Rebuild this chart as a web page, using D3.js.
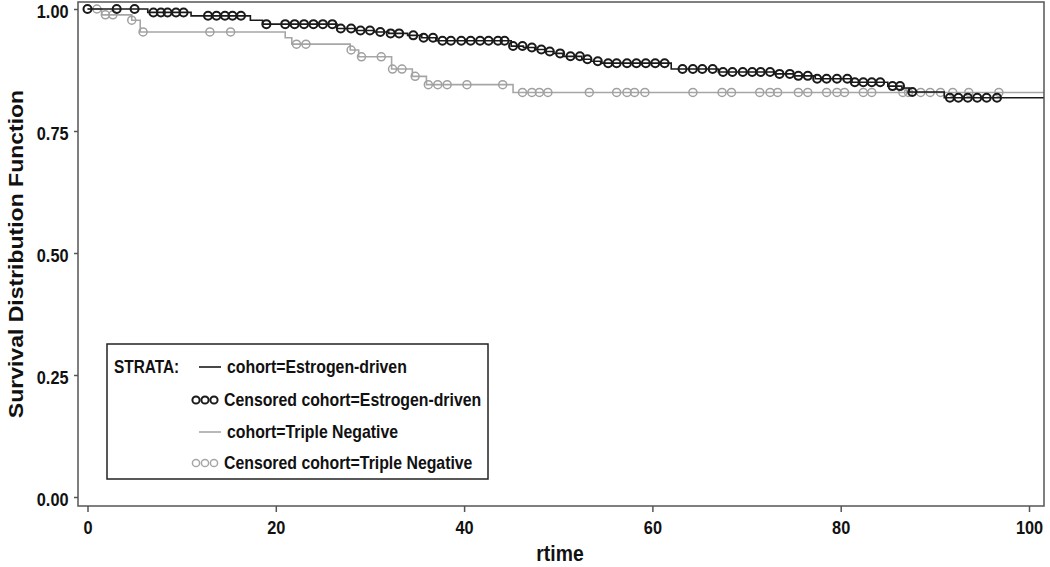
<!DOCTYPE html>
<html>
<head>
<meta charset="utf-8">
<script src="https://cdn.jsdelivr.net/npm/d3@7"></script>
<style>
  body { margin: 0; background: #fff; }
  text { font-family: "Liberation Sans", Arial, sans-serif; font-weight: bold; fill: #111; }
</style>
</head>
<body>
<div id="chart"></div>
<script>
// Data: Kaplan-Meier steps [time, survival after the step] and censored times
const estrogenSteps = [
  [0, 1.0], [6.4, 0.993], [11.0, 0.986], [17.3, 0.977], [18.6, 0.969],
  [26.5, 0.960], [28.5, 0.956], [30.5, 0.953], [32.0, 0.950], [34.0, 0.946],
  [35.5, 0.941], [37.0, 0.935], [45.0, 0.924], [46.3, 0.921], [47.5, 0.917],
  [48.6, 0.913], [49.5, 0.909], [50.5, 0.903], [52.5, 0.897], [53.5, 0.893],
  [54.5, 0.889], [62.0, 0.877], [67.0, 0.871], [73.0, 0.867], [75.0, 0.863],
  [77.3, 0.857], [81.2, 0.850], [85.0, 0.842], [86.5, 0.838], [87.3, 0.830],
  [91.0, 0.818]
];
const estrogenCensored = [
  0, 3.1, 5.0, 7.0, 7.8, 8.5, 9.4, 10.2, 12.8, 13.7, 14.6, 15.4, 16.3,
  19.0, 21.0, 22.0, 23.0, 24.0, 25.0, 26.0, 26.9, 28.0, 29.0, 30.0, 31.1,
  32.2, 33.1, 34.6, 35.7, 36.7, 37.7, 38.6, 39.7, 40.7, 41.7, 42.6, 43.6,
  44.3, 45.2, 46.2, 47.2, 48.2, 49.1, 50.2, 51.3, 52.3, 53.1, 54.2, 55.3,
  56.2, 57.3, 58.3, 59.3, 60.3, 61.3, 63.2, 64.3, 65.3, 66.4, 67.5, 68.5,
  69.6, 70.6, 71.5, 72.5, 73.5, 74.6, 75.5, 76.5, 77.5, 78.5, 79.6, 80.7,
  81.5, 82.4, 83.3, 84.2, 85.5, 86.3, 87.6, 91.6, 92.5, 93.5, 94.5, 95.5, 96.6
];
const tripleSteps = [
  [0, 1.0], [1.5, 0.988], [4.7, 0.977], [5.6, 0.953], [21.0, 0.941],
  [21.7, 0.928], [27.9, 0.916], [28.8, 0.902], [32.3, 0.877], [34.5, 0.862],
  [36.0, 0.845], [45.2, 0.829]
];
const tripleCensored = [
  1.0, 1.9, 2.7, 4.7, 5.9, 13.0, 15.2, 22.2, 23.2, 28.0, 29.1, 31.2, 32.4,
  33.4, 34.8, 36.2, 37.2, 38.2, 40.3, 44.1, 46.2, 47.2, 48.0, 48.9, 53.3,
  56.2, 57.3, 58.1, 59.2, 64.3, 67.4, 68.4, 71.4, 72.5, 73.3, 75.5, 76.5,
  78.5, 79.6, 80.4, 82.4, 83.3, 86.6, 87.2, 88.5, 89.5, 90.6, 91.9, 93.6, 96.8
];
const xTicks = [0, 20, 40, 60, 80, 100];
const yTicks = [0, 0.25, 0.5, 0.75, 1];
const legendLabels = [
  "cohort=Estrogen-driven",
  "Censored cohort=Estrogen-driven",
  "cohort=Triple Negative",
  "Censored cohort=Triple Negative"
];
const endTime = 101.6;

// Dimensions
const dimensions = { width: 1050, height: 567 };
const frame = { left: 78, right: 1044, top: 2, bottom: 506 };
const squeeze = 0.88; // the source text is a little condensed

const svg = d3.select("#chart")
  .append("svg")
  .attr("width", dimensions.width)
  .attr("height", dimensions.height);

// Scales
const xScale = d3.scaleLinear().domain([0, 100]).range([87.5, 1029]);
const yScale = d3.scaleLinear().domain([0, 1]).range([497, 9]);

const survivalAt = (steps, t) => {
  let s = steps[0][1];
  steps.forEach((d) => { if (d[0] <= t) s = d[1]; });
  return s;
};

const lineGenerator = d3.line()
  .curve(d3.curveStepAfter)
  .x((d) => xScale(d[0]))
  .y((d) => yScale(d[1]));

function drawCurve(steps, censored, lineColor, markColor, markWidth) {
  const pts = steps.concat([[endTime, steps[steps.length - 1][1]]]);
  svg.append("path")
    .datum(pts)
    .attr("d", lineGenerator)
    .attr("fill", "none")
    .attr("stroke", lineColor)
    .attr("stroke-width", 1.6);

  svg.append("g")
    .selectAll("circle")
    .data(censored)
    .join("circle")
    .attr("cx", (d) => xScale(d))
    .attr("cy", (d) => yScale(survivalAt(steps, d)))
    .attr("r", 4)
    .attr("fill", "none")
    .attr("stroke", markColor)
    .attr("stroke-width", markWidth);
}

drawCurve(tripleSteps, tripleCensored, "#a6a6a6", "#a0a0a0", 1.5);
drawCurve(estrogenSteps, estrogenCensored, "#1a1a1a", "#1a1a1a", 2);

// Frame
svg.append("rect")
  .attr("x", frame.left)
  .attr("y", frame.top)
  .attr("width", frame.right - frame.left)
  .attr("height", frame.bottom - frame.top)
  .attr("fill", "none")
  .attr("stroke", "#555")
  .attr("stroke-width", 1.5);

// Axes
const xAxis = d3.axisBottom(xScale).tickValues(xTicks).tickSize(6).tickPadding(9);
const xAxisGroup = svg.append("g")
  .attr("transform", `translate(0, ${frame.bottom})`)
  .call(xAxis);

const yAxis = d3.axisLeft(yScale).tickValues(yTicks).tickFormat(d3.format(".2f"))
  .tickSize(4).tickPadding(7);
const yAxisGroup = svg.append("g")
  .attr("transform", `translate(${frame.left}, 0)`)
  .call(yAxis);

[xAxisGroup, yAxisGroup].forEach((g) => {
  g.select(".domain").remove();
  g.selectAll(".tick line").attr("stroke", "#555").attr("stroke-width", 1.5);
  g.selectAll(".tick text")
    .style("font-size", "19px")
    .attr("fill", "#111")
    .attr("transform", "scale(0.86,1)");
});
// sit the y labels a touch lower, as in the source
yAxisGroup.selectAll(".tick text").attr("dy", "0.45em");

// Axis titles
svg.append("text")
  .attr("transform", `translate(560, 561) scale(${squeeze},1)`)
  .attr("text-anchor", "middle")
  .style("font-size", "22px")
  .text("rtime");

svg.append("text")
  .attr("transform", `translate(23, 254) rotate(-90) scale(1,${squeeze})`)
  .attr("text-anchor", "middle")
  .style("font-size", "23px")
  .text("Survival Distribution Function");

// Legend
const legend = svg.append("g");
legend.append("rect")
  .attr("x", 107).attr("y", 344)
  .attr("width", 381).attr("height", 135)
  .attr("fill", "#fff")
  .attr("stroke", "#222")
  .attr("stroke-width", 1.5);

legend.append("text")
  .attr("transform", `translate(114, 373) scale(${squeeze},1)`)
  .style("font-size", "17.5px")
  .text("STRATA:");

const rowY = [367, 400, 432, 463];
legendLabels.forEach((label, i) => {
  const y = rowY[i];
  const isTriple = i >= 2;
  const color = isTriple ? "#a6a6a6" : "#1a1a1a";
  if (i % 2 === 0) {
    legend.append("line")
      .attr("x1", 199).attr("x2", 221)
      .attr("y1", y).attr("y2", y)
      .attr("stroke", color)
      .attr("stroke-width", 1.6);
  } else {
    [196, 205, 214].forEach((cx) => {
      legend.append("circle")
        .attr("cx", cx).attr("cy", y).attr("r", 3.6)
        .attr("fill", "none")
        .attr("stroke", color)
        .attr("stroke-width", isTriple ? 1.5 : 2);
    });
  }
  legend.append("text")
    .attr("transform", `translate(${i % 2 === 0 ? 227 : 224}, ${y + 6}) scale(${squeeze},1)`)
    .style("font-size", "18px")
    .text(label);
});
</script>
</body>
</html>
